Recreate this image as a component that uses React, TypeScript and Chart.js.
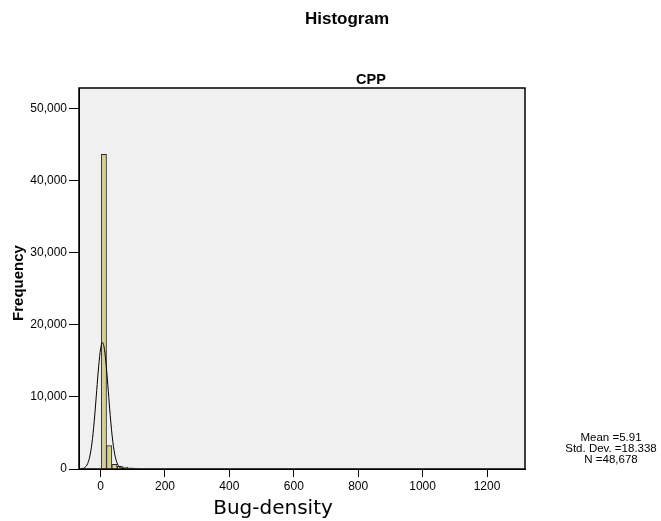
import React, { useEffect, useRef } from "react";
import { Chart, registerables } from "chart.js";

Chart.register(...registerables);

// Histogram bins (bin centres, width ~16.5) and frequencies
const binCenters = [10.25, 26.75, 43.25, 59.75, 76.25, 92.75, 109.25];
const binCounts = [43600, 3250, 650, 380, 260, 170, 110];

// Fitted normal curve
const curveX = [-60, -50, -40, -32, -25, -18, -12, -6, 0, 6, 12, 18, 24, 30, 38, 46, 55, 65, 75];
const curveY = [27, 168, 763, 2069, 4233, 7490, 10877, 14193, 16639, 17525, 16586, 14103, 10773, 7394, 3791, 1607, 487, 98, 15];

const xTicks = [0, 200, 400, 600, 800, 1000, 1200];
const yTicks = [0, 10000, 20000, 30000, 40000, 50000];

const statLines = ["Mean =5.91", "Std. Dev. =18.338", "N =48,678"];

const SANS = "'Liberation Sans', Arial, sans-serif";

export default function App() {
  const ref = useRef<HTMLCanvasElement | null>(null);

  useEffect(() => {
    if (!ref.current) return;
    const textPlugin = {
      id: "spssDecor",
      beforeDraw(chart: any) {
        const { ctx, chartArea } = chart;
        ctx.save();
        ctx.fillStyle = "#ffffff";
        ctx.fillRect(0, 0, chart.width, chart.height);
        ctx.fillStyle = "#f0f0f0";
        ctx.fillRect(chartArea.left, chartArea.top, chartArea.right - chartArea.left, chartArea.bottom - chartArea.top);
        ctx.restore();
      },
      afterDraw(chart: any) {
        const { ctx, chartArea } = chart;
        ctx.save();
        ctx.strokeStyle = "#000";
        ctx.lineWidth = 1.5;
        ctx.strokeRect(chartArea.left, chartArea.top, chartArea.right - chartArea.left, chartArea.bottom - chartArea.top);

        ctx.fillStyle = "#000";
        ctx.textAlign = "center";
        ctx.textBaseline = "alphabetic";
        ctx.font = `bold 17px ${SANS}`;
        ctx.fillText("Histogram", 347, 24);
        ctx.font = `bold 14.5px ${SANS}`;
        ctx.fillText("CPP", 371, 83.5);
        ctx.font = `20px 'DejaVu Sans', sans-serif`;
        ctx.fillText("Bug-density", 273, 514);
        ctx.font = `11.5px ${SANS}`;
        statLines.forEach((s, i) => ctx.fillText(s, 611, 441 + i * 11));

        ctx.translate(19, 283);
        ctx.rotate(-Math.PI / 2);
        ctx.textBaseline = "middle";
        ctx.font = `bold 15px ${SANS}`;
        ctx.fillText("Frequency", 0, 0);
        ctx.restore();
      },
    };

    const chart = new Chart(ref.current, {
      type: "bar",
      data: {
        datasets: [
          {
            type: "line",
            data: curveX.map((x, i) => ({ x, y: curveY[i] })),
            borderColor: "#000",
            borderWidth: 1,
            pointRadius: 0,
            fill: false,
            cubicInterpolationMode: "monotone",
            order: 0,
          } as any,
          {
            type: "bar",
            data: binCenters.map((x, i) => ({ x, y: binCounts[i] })),
            backgroundColor: "#d4ce98",
            borderColor: "#2a2a2a",
            borderWidth: 1,
            barPercentage: 1,
            categoryPercentage: 1,
            grouped: false,
            order: 1,
          } as any,
        ],
      },
      options: {
        responsive: false,
        animation: false,
        devicePixelRatio: 1,
        layout: { padding: { left: 0, right: 136, top: 88, bottom: 0 } },
        plugins: {
          legend: { display: false },
          tooltip: { enabled: false },
          title: { display: false },
        },
        scales: {
          x: {
            type: "linear",
            min: -67,
            max: 1318,
            offset: false,
            afterBuildTicks: (s: any) => {
              s.ticks = xTicks.map((v) => ({ value: v }));
            },
            afterFit: (s: any) => {
              s.height = 52;
            },
            ticks: {
              color: "#000",
              font: { family: SANS, size: 12 },
              padding: 2,
              maxRotation: 0,
              autoSkip: false,
              callback: (v: any) => String(v),
            },
            grid: { display: true, offset: false, drawOnChartArea: false, drawTicks: true, tickLength: 8, color: "#000", lineWidth: 1 },
            border: { display: true, color: "#000", width: 1 },
          },
          y: {
            type: "linear",
            min: 0,
            max: 52800,
            afterBuildTicks: (s: any) => {
              s.ticks = yTicks.map((v) => ({ value: v }));
            },
            afterFit: (s: any) => {
              s.width = 79;
            },
            ticks: {
              color: "#000",
              font: { family: SANS, size: 12 },
              padding: 2,
              callback: (v: any) => Number(v).toLocaleString("en-US"),
            },
            grid: { display: true, offset: false, drawOnChartArea: false, drawTicks: true, tickLength: 10, color: "#000", lineWidth: 1 },
            border: { display: true, color: "#000", width: 1 },
          },
        },
      } as any,
      plugins: [textPlugin],
    });
    return () => chart.destroy();
  }, []);

  return (
    <div style={{ position: "absolute", left: 0, top: 0, width: 661, height: 521 }}>
      <canvas ref={ref} width={661} height={521} style={{ display: "block" }} />
    </div>
  );
}
